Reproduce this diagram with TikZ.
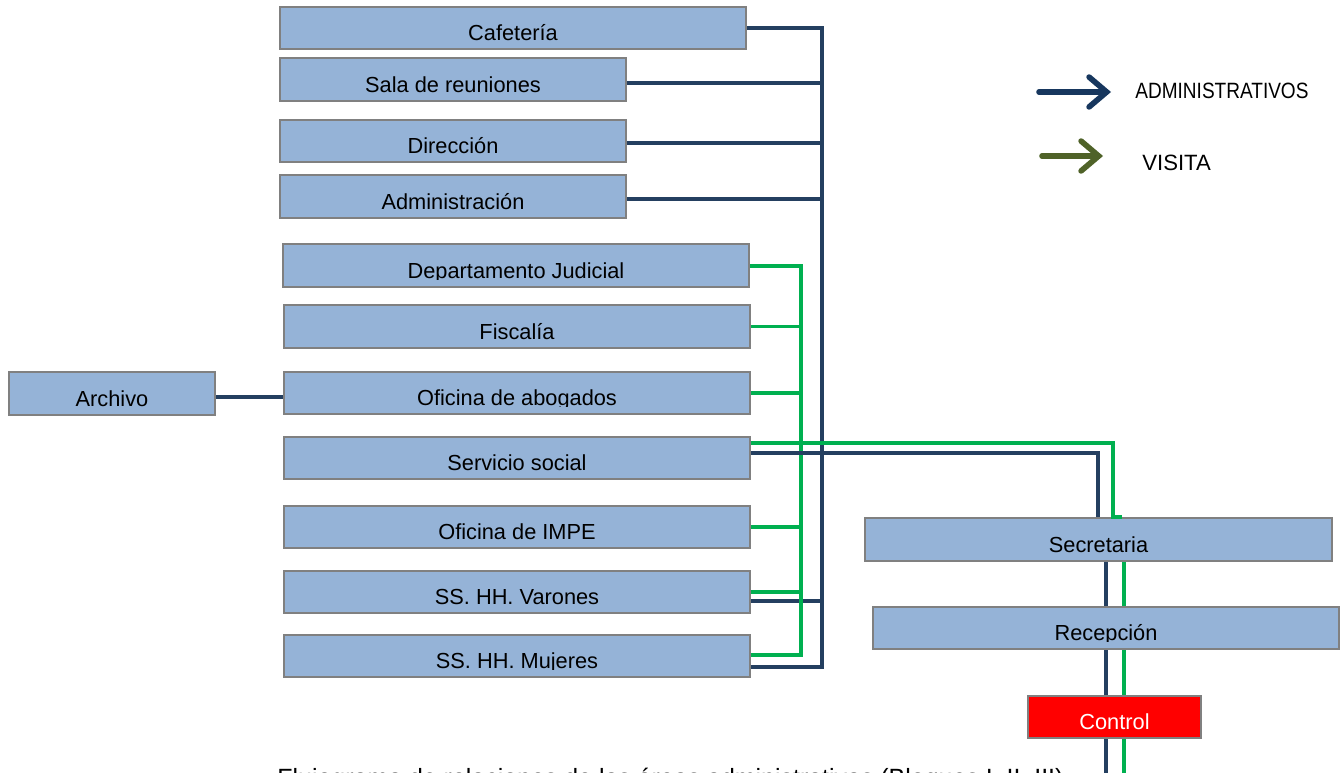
\documentclass[tikz,border=0pt]{standalone}
\usepackage{fontspec}
\setmainfont{Liberation Sans}
\usetikzlibrary{arrows.meta, fit}

\definecolor{roomblue}{HTML}{95B3D7}
\definecolor{roomedge}{HTML}{808080}
\definecolor{admblue}{HTML}{243F60}
\definecolor{admdark}{HTML}{17375E}
\definecolor{visgreen}{HTML}{00B050}
\definecolor{visolive}{HTML}{4F6228}

\tikzset{
  room/.style={draw=roomedge, line width=1.2pt, fill=roomblue, inner sep=0pt},
  ctrl/.style={room, fill=red},
  admline/.style={draw=admblue, line width=2.1pt},
  visline/.style={draw=visgreen, line width=2.1pt},
  keyarrow/.style={line width=3.2pt, line cap=round,
    -{Straight Barb[length=10pt, width=17pt, line cap=round]}},
  roomtext/.style={anchor=base, inner sep=0pt, font=\fontsize{12.4}{15}\selectfont},
}

\begin{document}
\begin{tikzpicture}[x=0.02cm, y=-0.02cm]
  \useasboundingbox (0,0) rectangle (1341,773);
  % ambientes
  \node[room, fit={(280,7) (746,49)}] (caf) {};
  \node[room, fit={(280,58) (626,101)}] (sala) {};
  \node[room, fit={(280,120) (626,162)}] (dir) {};
  \node[room, fit={(280,175) (626,218)}] (admin) {};
  \node[room, fit={(283,244) (749,287)}] (judicial) {};
  \node[room, fit={(284,305) (750,348)}] (fiscalia) {};
  \node[room, fit={(284,372) (750,414)}] (abogados) {};
  \node[room, fit={(9,372) (215,415)}] (archivo) {};
  \node[room, fit={(284,437) (750,479)}] (social) {};
  \node[room, fit={(284,506) (750,548)}] (impe) {};
  \node[room, fit={(284,571) (750,613)}] (varones) {};
  \node[room, fit={(284,635) (750,677)}] (mujeres) {};
  \node[room, fit={(865,518) (1332,561)}] (secretaria) {};
  \node[room, fit={(873,607) (1339,649)}] (recepcion) {};
  \node[ctrl, fit={(1028,696) (1201,738)}] (control) {};
  % textos (cortados abajo)
  \foreach \n/\t/\c in {caf/Cafetería/black, sala/Sala de reuniones/black,
      dir/Dirección/black, admin/Administración/black,
      judicial/Departamento Judicial/black, fiscalia/Fiscalía/black,
      abogados/Oficina de abogados/black, archivo/Archivo/black,
      social/Servicio social/black, impe/Oficina de IMPE/black,
      varones/SS. HH. Varones/black, mujeres/SS. HH. Mujeres/black,
      secretaria/Secretaria/black, recepcion/Recepción/black,
      control/Control/white} {
    \begin{scope}
      \clip (\n.north west) rectangle ([yshift=4.6pt]\n.south east);
      \node[roomtext, text=\c] (\n-txt) at ([yshift=5.4pt]\n.south) {\t};
    \end{scope}
  }
  % circulacion administrativa
  \coordinate (atop) at (822,28);
  \coordinate (abot) at (822,667);
  \draw[admline] (caf.east) -- (atop) -- (abot) -- (mujeres.east |- abot);
  \draw[admline] (sala.east |- 0,83) -- (atop |- 0,83);
  \draw[admline] (dir.east |- 0,143) -- (atop |- 0,143);
  \draw[admline] (admin.east |- 0,199) -- (atop |- 0,199);
  \draw[admline] (varones.east |- 0,601) -- (atop |- 0,601);
  \draw[admline] (archivo.east |- 0,397) -- (abogados.west |- 0,397);
  % circulacion de visitas
  \coordinate (vtop) at (801,266);
  \coordinate (vbot) at (801,655);
  \draw[visline] (judicial.east |- vtop) -- (vtop) -- (vbot) -- (mujeres.east |- vbot);
  \foreach \n in {fiscalia, abogados, impe, varones}
    \draw[visline] (\n.east) -- (\n.east -| vtop);
  % servicio social hacia secretaria
  \coordinate (asec) at (1098,453);
  \coordinate (vsec) at (1113,443);
  \draw[visline] (social.east |- vsec) -- (vsec) -- (secretaria.north -| vsec) -- ++(9,0);
  \draw[admline] (social.east |- asec) -- (asec) -- (secretaria.north -| asec);
  % salida por control
  \coordinate (aexit) at (1106,773);
  \coordinate (vexit) at (1124,773);
  \foreach \a/\b in {secretaria/recepcion, recepcion/control} {
    \draw[admline] (\a.south -| aexit) -- (\b.north -| aexit);
    \draw[visline] (\a.south -| vexit) -- (\b.north -| vexit);
  }
  \draw[admline] (control.south -| aexit) -- (aexit);
  \draw[visline] (control.south -| vexit) -- (vexit);
  % leyenda
  \coordinate (admA) at (1039,92);
  \coordinate (admB) at (1111,92);
  \coordinate (visA) at (1042,156);
  \coordinate (visB) at (1103,156);
  \draw[keyarrow, admdark] (admA) -- (admB);
  \draw[keyarrow, visolive] (visA) -- (visB);
  \node[anchor=west, inner sep=0pt, font=\fontsize{12.6}{15}\selectfont] (admkey)
    at (1135,91) {\scalebox{0.86}[1]{ADMINISTRATIVOS}};
  \node[anchor=west, inner sep=0pt, font=\fontsize{12.6}{15}\selectfont] (viskey)
    at (1142,163) {VISITA};
  % titulo (cortado)
  \begin{scope}
    \clip (0,750) rectangle (1341,773);
    \node[anchor=base west, inner sep=0pt, font=\fontsize{14.2}{16}\selectfont] (caption)
      at (277,786) {Flujograma de relaciones de las áreas administrativas (Bloques I, II, III)};
  \end{scope}
\end{tikzpicture}
\end{document}
